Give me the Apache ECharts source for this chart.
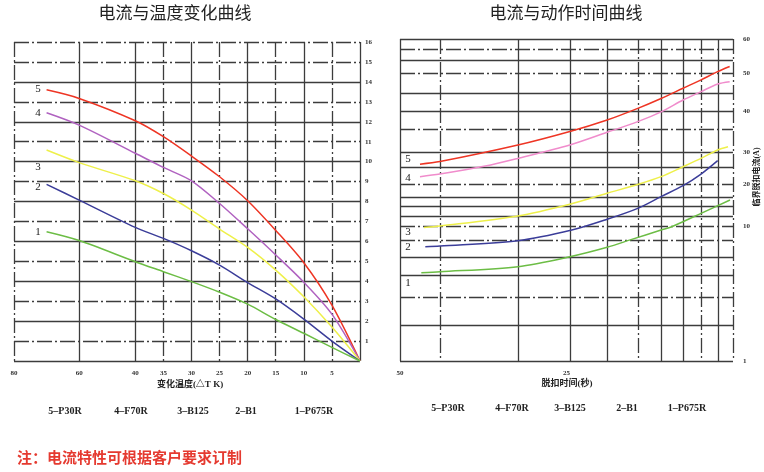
<!DOCTYPE html>
<html>
<head>
<meta charset="utf-8">
<script src="https://cdn.jsdelivr.net/npm/echarts@6/dist/echarts.min.js"></script>
<style>
    html, body { margin: 0; padding: 0; background: #fff; }
    #main { width: 764px; height: 472px; }
</style>
</head>
<body>
<div id="main"></div>
<script>
    // 左图：电流与温度变化曲线 (横轴 ΔT K，纵轴 电流)
    var tempDeltaT = [70, 60, 40, 35, 30, 25, 20, 15, 10, 5, 0];
    var tempP30R  = [13.6, 13.17, 12.05, 11.25, 10.28, 9.24, 8.04, 6.55, 4.93, 2.8, 0];
    var tempF70R  = [12.45, 11.83, 10.42, 9.71, 9.04, 7.9, 6.63, 5.32, 3.95, 2.35, 0];
    var tempB125  = [10.58, 9.95, 9.04, 8.4, 7.57, 6.62, 5.7, 4.56, 3.22, 1.7, 0];
    var tempB1    = [8.86, 8.07, 6.7, 6.15, 5.53, 4.81, 3.93, 3.11, 2.1, 1.0, 0];
    var tempP675R = [6.48, 6.04, 4.98, 4.48, 3.98, 3.45, 2.85, 2.08, 1.39, 0.68, 0];
    var tempTicks = [80, 60, 40, 35, 30, 25, 20, 15, 10, 5];
    var tempCurrentTicks = [1, 2, 3, 4, 5, 6, 7, 8, 9, 10, 11, 12, 13, 14, 15, 16];

    // 右图：电流与动作时间曲线 [脱扣时间(秒), 临界脱扣电流(A)]
    var tripP30R  = [[47, 26.2], [44, 27.0], [32.3, 31.7], [24.5, 35.0], [18.9, 37.8], [14.3, 40.7], [10.8, 43.3], [7.5, 46.0], [4.8, 48.2], [2.3, 50.4], [0.5, 51.9]];
    var tripF70R  = [[47, 22.3], [44, 23.1], [37.2, 25.6], [32.3, 28.0], [24.5, 31.7], [18.9, 34.8], [14.3, 37.4], [10.8, 39.8], [7.5, 42.9], [4.8, 45.1], [2.3, 47.1], [0.5, 47.7]];
    var tripB125  = [[46.4, 9.9], [44, 10.0], [32.3, 12.4], [24.5, 15.2], [18.9, 17.8], [14.3, 19.9], [10.8, 22.3], [7.5, 25.4], [4.8, 28.0], [2.3, 30.5], [0.75, 31.3]];
    var tripB1    = [[46.2, 8.62], [44, 8.67], [32.3, 9.02], [24.2, 9.73], [18.9, 11.6], [14.3, 14.2], [10.8, 17.0], [7.5, 19.6], [4.8, 23.1], [2.3, 27.3]];
    var tripP675R = [[46.8, 6.89], [44, 6.95], [32.3, 7.29], [24.5, 7.95], [18.9, 8.58], [15.2, 9.11], [10.8, 9.73], [9.2, 9.95], [4.8, 13.0], [0.45, 16.2]];
    var tripTimeTicks = [50, 25];
    var tripCurrentTicks = [1, 10, 20, 30, 40, 50, 60];

    var legendNames = ['5–P30R', '4–F70R', '3–B125', '2–B1', '1–P675R'];

    // 温度轴：40 以上压缩
    function tPos(t) {
        if (t <= 40) return t;
        if (t <= 60) return 40 + (t - 40) / 2;
        return 50 + (t - 60) * 0.58;
    }
    // 电流轴：分段刻度
    var ampAnchorPos = [0, 135, 177, 209, 250, 288, 322];
    function aPos(a) {
        for (var i = 1; i < tripCurrentTicks.length; i++) {
            if (a <= tripCurrentTicks[i] || i == tripCurrentTicks.length - 1) {
                var k = (a - tripCurrentTicks[i - 1]) / (tripCurrentTicks[i] - tripCurrentTicks[i - 1]);
                return ampAnchorPos[i - 1] + k * (ampAnchorPos[i] - ampAnchorPos[i - 1]);
            }
        }
    }

    var gridColor = '#3c3c3c';
    var dashDot = [15, 3, 2, 3];
    var solidLine = { show: true, lineStyle: { color: gridColor, width: 1.3, type: 'solid' } };
    var dashLine = { show: true, lineStyle: { color: gridColor, width: 1.3, type: dashDot } };
    var tickFont = { fontFamily: 'Liberation Serif', fontWeight: 'bold', fontSize: 7, color: '#333' };

    var tempTickPos = tempTicks.map(tPos);
    var tempSolidT = [60, 40, 30, 20, 10, 0].map(tPos);
    var tempDashT = [80, 35, 25, 15, 5].map(tPos);
    var tempSolidI = [0, 2, 4, 6, 8, 10, 12, 14];
    var tempDashI = [1, 3, 5, 7, 9, 11, 13, 15, 16];
    var tripSolidTime = [50, 32.3, 24.5, 18.9, 10.8, 7.5, 2.25];
    var tripDashTime = [44, 14.3, 4.8, 0];
    var tripSolidAmp = [60, 53.8, 44.7, 40, 30, 25.3, 16.9, 14.8, 12.4, 7.93, 6.73, 3.4, 1];
    var tripDashAmp = [57.1, 50, 35.6, 20, 10, 9.07, 5.27];

    function tempSeries(name, vals, color) {
        return {
            name: name, type: 'line', xAxisIndex: 0, yAxisIndex: 0,
            smooth: 0.3, showSymbol: false,
            lineStyle: { color: color, width: 1.5 },
            data: tempDeltaT.map(function (t, i) { return [tPos(t), vals[i]]; })
        };
    }
    function tripSeries(name, pts, color) {
        return {
            name: name, type: 'line', xAxisIndex: 2, yAxisIndex: 2,
            smooth: 0.3, showSymbol: false,
            lineStyle: { color: color, width: 1.5 },
            data: pts.map(function (p) { return [p[0], aPos(p[1])]; })
        };
    }
    // 仅用于画网格线的辅助轴
    function gridAxis(gridIndex, min, max, inverse, values, line, position) {
        return {
            gridIndex: gridIndex, type: 'value', min: min, max: max, inverse: inverse, position: position,
            axisLine: { show: false }, axisLabel: { show: false },
            axisTick: { show: false, customValues: values },
            splitLine: line
        };
    }

    var myChart = echarts.init(document.getElementById('main'));
    var textEls = [];
    function addText(txt, x, y, font, color, rot) {
        textEls.push({
            type: 'text', x: x, y: y, rotation: rot || 0,
            style: { text: txt, font: font, fill: color || '#222', align: 'center', verticalAlign: 'middle' }
        });
    }
    addText('电流与温度变化曲线', 175, 13, '17px "Noto Sans CJK SC"', '#222');
    addText('电流与动作时间曲线', 566, 13, '17px "Noto Sans CJK SC"', '#222');
    addText('变化温度(△T K)', 190, 385, 'bold 9px "Liberation Serif", "Noto Sans CJK SC"', '#222');
    addText('脱扣时间(秒)', 567, 384, 'bold 9px "Liberation Serif", "Noto Sans CJK SC"', '#222');
    addText('临界脱扣电流(A)', 757, 177, 'bold 8px "Liberation Serif", "Noto Sans CJK SC"', '#222', Math.PI / 2);
    var leftLegendX = [65, 131, 193, 246, 314];
    var rightLegendX = [448, 512, 570, 627, 687];
    legendNames.forEach(function (n, i) {
        addText(n, leftLegendX[i], 411, 'bold 10px "Liberation Serif"', '#222');
        addText(n, rightLegendX[i], 408, 'bold 10px "Liberation Serif"', '#222');
    });
    // 曲线编号
    var numFont = '11px "Liberation Serif"';
    [['5', 38, 89], ['4', 38, 113], ['3', 38, 167], ['2', 38, 187], ['1', 38, 232],
     ['5', 408, 159], ['4', 408, 178], ['3', 408, 232], ['2', 408, 247], ['1', 408, 283]].forEach(function (a) {
        addText(a[0], a[1], a[2], numFont, '#222');
    });
    textEls.push({
        type: 'text', x: 17, y: 457,
        style: { text: '注：电流特性可根据客户要求订制', font: 'bold 15px "Noto Sans CJK SC"', fill: '#e53a30', align: 'left', verticalAlign: 'middle' }
    });

    var option = {
        backgroundColor: '#fff',
        animation: false,
        graphic: textEls,
        grid: [
            { left: 14, right: 404, top: 42, bottom: 111 },
            { left: 400, right: 31, top: 39, bottom: 111 }
        ],
        xAxis: [
            {
                gridIndex: 0, type: 'value', min: 0, max: tPos(80), inverse: true,
                axisLine: { show: false },
                axisTick: { show: false, customValues: tempSolidT },
                axisLabel: Object.assign({
                    customValues: tempTickPos, margin: 9,
                    formatter: function (v) {
                        for (var i = 0; i < tempTickPos.length; i++) {
                            if (Math.abs(tempTickPos[i] - v) < 1e-6) return tempTicks[i];
                        }
                        return '';
                    }
                }, tickFont),
                splitLine: solidLine
            },
            gridAxis(0, 0, tPos(80), true, tempDashT, dashLine),
            {
                gridIndex: 1, type: 'value', min: 0, max: 50, inverse: true,
                axisLine: { show: false },
                axisTick: { show: false, customValues: tripSolidTime },
                axisLabel: Object.assign({ customValues: tripTimeTicks, margin: 9 }, tickFont),
                splitLine: solidLine
            },
            gridAxis(1, 0, 50, true, tripDashTime, dashLine)
        ],
        yAxis: [
            {
                gridIndex: 0, type: 'value', position: 'right', min: 0, max: 16,
                axisLine: { show: false },
                axisTick: { show: false, customValues: tempSolidI },
                axisLabel: Object.assign({ margin: 5, customValues: tempCurrentTicks }, tickFont),
                splitLine: solidLine
            },
            gridAxis(0, 0, 16, false, tempDashI, dashLine, 'right'),
            {
                gridIndex: 1, type: 'value', position: 'right', min: 0, max: 322,
                axisLine: { show: false },
                axisTick: { show: false, customValues: tripSolidAmp.map(aPos) },
                axisLabel: Object.assign({
                    margin: 10,
                    customValues: ampAnchorPos,
                    formatter: function (v) {
                        var i = ampAnchorPos.indexOf(v);
                        return i >= 0 ? tripCurrentTicks[i] : '';
                    }
                }, tickFont),
                splitLine: solidLine
            },
            gridAxis(1, 0, 322, false, tripDashAmp.map(aPos), dashLine, 'right')
        ],
        series: [
            tempSeries('5-P30R', tempP30R, '#ee3524'),
            tempSeries('4-F70R', tempF70R, '#b062c0'),
            tempSeries('3-B125', tempB125, '#eef04a'),
            tempSeries('2-B1', tempB1, '#3b3d99'),
            tempSeries('1-P675R', tempP675R, '#6cbd45'),
            tripSeries('5-P30R', tripP30R, '#ee3524'),
            tripSeries('4-F70R', tripF70R, '#f08ccc'),
            tripSeries('3-B125', tripB125, '#eef04a'),
            tripSeries('2-B1', tripB1, '#3b3d99'),
            tripSeries('1-P675R', tripP675R, '#6cbd45')
        ]
    };
    myChart.setOption(option);
</script>
</body>
</html>
